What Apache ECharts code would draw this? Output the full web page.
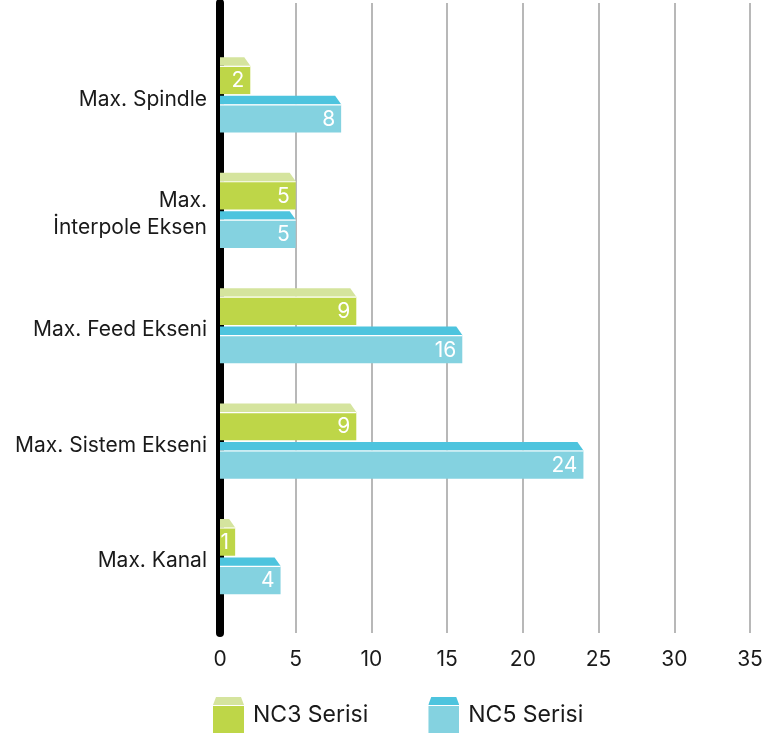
<!DOCTYPE html>
<html>
<head>
<meta charset="utf-8">
<style>
  html, body { margin: 0; padding: 0; background: #ffffff; }
  #chart { width: 768px; height: 736px; }
</style>
<script src="https://cdn.jsdelivr.net/npm/echarts@6/dist/echarts.min.js"></script>
</head>
<body>
<div id="chart"></div>
<script>
// Categories, top to bottom
const categories = ['Max. Spindle', 'Max.\nİnterpole Eksen', 'Max. Feed Ekseni', 'Max. Sistem Ekseni', 'Max. Kanal'];
// Series values
const nc3Values = [2, 5, 9, 9, 1];
const nc5Values = [8, 5, 16, 24, 4];
// Value axis ticks
const xMin = 0, xMax = 35, xStep = 5;

const seriesNames = ['NC3 Serisi', 'NC5 Serisi'];
const frontColors = ['#bed648', '#84d2e0'];
const topColors = ['#d5e49e', '#4dc4de'];
const FONT = 'Inter, "Noto Sans", sans-serif';

// Two-tone legend icon: pale top face above a square front face
function iconUrl(front, top) {
  const svg = '<svg xmlns="http://www.w3.org/2000/svg" width="31" height="36" viewBox="0 0 31 36">' +
    '<polygon points="3,0 28,0 31,8 0,8" fill="' + top + '"/>' +
    '<rect x="0" y="9" width="31" height="27" fill="' + front + '"/></svg>';
  return 'image://data:image/svg+xml;charset=utf-8,' + encodeURIComponent(svg);
}

// Horizontal bar with a slanted top face, drawn from the axis scales
function makeRenderer(sIdx) {
  return function (params, api) {
    const cat = api.value(0);
    const val = api.value(1);
    const p0 = api.coord([0, cat]);
    const p1 = api.coord([val, cat]);
    const band = api.size([0, 1])[1];
    const thick = band * 0.245;
    const gap = band * 0.044;
    const c = p0[1];
    const y0 = sIdx === 0 ? c - gap - thick : c + gap;
    const y1 = y0 + thick;
    const x0 = p0[0], x1 = p1[0];
    const depth = 8.5, slant = 6;
    return {
      type: 'group',
      children: [
        {
          type: 'polygon',
          shape: { points: [[x0, y0 - depth], [Math.max(x0, x1 - slant), y0 - depth], [x1, y0], [x0, y0]] },
          style: { fill: topColors[sIdx] }
        },
        {
          type: 'rect',
          shape: { x: x0, y: y0, width: x1 - x0, height: thick },
          style: { fill: frontColors[sIdx] }
        },
        {
          type: 'line',
          shape: { x1: x0, y1: y0 + 0.5, x2: x1, y2: y0 + 0.5 },
          style: { stroke: '#ffffff', lineWidth: 1.2 }
        },
        {
          type: 'text',
          style: {
            text: String(val),
            x: x1 - 6,
            y: (y0 + y1) / 2 + 1,
            align: 'right',
            verticalAlign: 'middle',
            fill: '#ffffff',
            font: '21px ' + FONT
          }
        }
      ]
    };
  };
}

const chart = echarts.init(document.getElementById('chart'), null, { renderer: 'canvas' });

chart.setOption({
  animation: false,
  backgroundColor: '#ffffff',
  legend: {
    left: 213,
    top: 697,
    padding: 0,
    itemWidth: 31,
    itemHeight: 36,
    itemGap: 60,
    textStyle: { fontFamily: FONT, fontSize: 23, color: '#1a1a1a', padding: [0, 0, 0, 4] },
    data: [
      { name: seriesNames[0], icon: iconUrl(frontColors[0], topColors[0]) },
      { name: seriesNames[1], icon: iconUrl(frontColors[1], topColors[1]) }
    ]
  },
  grid: [
    { left: 220, right: 18, top: 3, bottom: 103 },
    { left: 220, right: 18, top: 41.5, height: 577 }
  ],
  xAxis: [
    {
      gridIndex: 0,
      type: 'value',
      min: xMin, max: xMax, interval: xStep,
      axisLine: { show: false },
      axisTick: { show: false },
      axisLabel: { color: '#1a1a1a', fontFamily: FONT, fontSize: 21, margin: 16 },
      splitLine: { lineStyle: { color: '#a0a0a0', width: 1.5 } }
    },
    {
      gridIndex: 1,
      type: 'value',
      min: xMin, max: xMax, interval: xStep,
      show: false
    }
  ],
  yAxis: [
    {
      gridIndex: 0,
      type: 'category',
      data: categories,
      offset: 3,
      axisLine: { show: true, lineStyle: { color: '#000000', width: 8 } },
      axisTick: { show: false },
      axisLabel: { show: false },
      splitLine: { show: false }
    },
    {
      gridIndex: 1,
      type: 'category',
      data: categories,
      inverse: true,
      axisLine: { show: false },
      axisTick: { show: false },
      axisLabel: {
        color: '#1a1a1a', fontFamily: FONT, fontSize: 21, margin: 13,
        lineHeight: 27, align: 'right'
      },
      splitLine: { show: false }
    }
  ],
  series: [
    {
      name: seriesNames[0],
      type: 'custom',
      xAxisIndex: 1, yAxisIndex: 1,
      itemStyle: { color: frontColors[0] },
      renderItem: makeRenderer(0),
      encode: { x: 1, y: 0 },
      data: nc3Values.map((v, i) => [i, v])
    },
    {
      name: seriesNames[1],
      type: 'custom',
      xAxisIndex: 1, yAxisIndex: 1,
      itemStyle: { color: frontColors[1] },
      renderItem: makeRenderer(1),
      encode: { x: 1, y: 0 },
      data: nc5Values.map((v, i) => [i, v])
    }
  ]
});
</script>
</body>
</html>
